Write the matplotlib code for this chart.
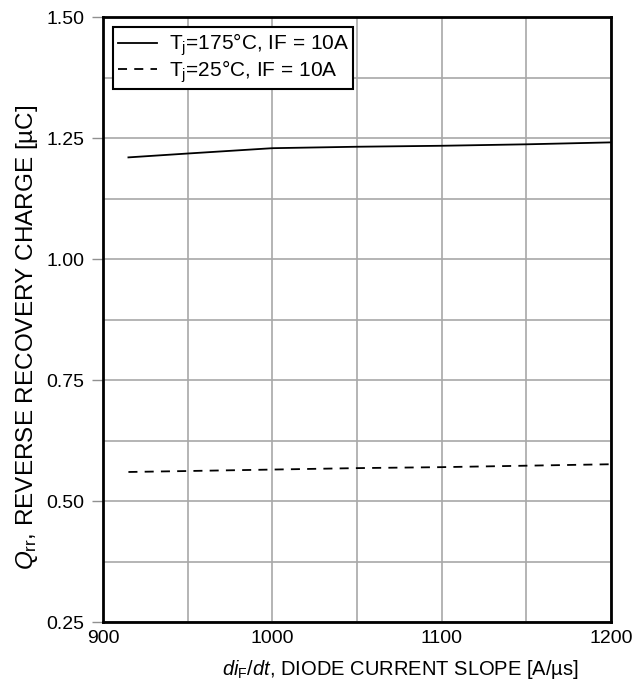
import matplotlib
matplotlib.use("Agg")
import matplotlib.pyplot as plt
from matplotlib.ticker import MultipleLocator

plt.rcParams['font.family'] = ['Liberation Sans', 'DejaVu Sans']
plt.rcParams['mathtext.fontset'] = 'custom'
plt.rcParams['mathtext.rm'] = 'Liberation Sans'
plt.rcParams['mathtext.it'] = 'Liberation Sans:italic'

# Data
didt = [915, 950, 1000, 1050, 1100, 1150, 1200]
qrr_175 = [1.210, 1.218, 1.229, 1.232, 1.234, 1.237, 1.241]
qrr_25 = [0.560, 0.562, 0.565, 0.568, 0.570, 0.573, 0.576]
labels = ["T$_\\mathregular{j}$=175°C, IF = 10A", "T$_\\mathregular{j}$=25°C, IF = 10A"]
xticks = [900, 1000, 1100, 1200]
yticks = [0.25, 0.50, 0.75, 1.00, 1.25, 1.50]

fig = plt.figure(figsize=(6.34, 6.81), dpi=100)
ax = fig.add_axes([0.1625, 0.0866, 0.8012, 0.8884])

ax.plot(didt, qrr_175, color='black', lw=1.3, label=labels[0])
ax.plot(didt, qrr_25, color='black', lw=1.3, ls=(0, (5, 4)), label=labels[1])

ax.set_xlim(900, 1200)
ax.set_ylim(0.25, 1.50)
ax.set_xticks(xticks)
ax.set_yticks(yticks)
ax.set_yticklabels([f"{v:.2f}" for v in yticks])
ax.xaxis.set_minor_locator(MultipleLocator(50))
ax.yaxis.set_minor_locator(MultipleLocator(0.125))
ax.grid(True, which='both', color='#a8a8a8', lw=1.2)
ax.set_axisbelow(True)
ax.tick_params(axis='x', which='both', length=0, labelsize=14, pad=6)
ax.tick_params(axis='y', which='major', length=8, width=1, color='#909090', labelsize=14, pad=5.5)
ax.tick_params(axis='y', which='minor', length=0)
for s in ax.spines.values():
    s.set_linewidth(2)
    s.set_color('black')

ax.set_xlabel("$di_{\\mathregular{F}}/dt$, DIODE CURRENT SLOPE [A/µs]", fontsize=14.5)
ax.xaxis.set_label_coords(0.585, -0.059)
ax.set_ylabel("$Q_{\\mathregular{rr}}$, REVERSE RECOVERY CHARGE [µC]", fontsize=17.5)
ax.yaxis.set_label_coords(-0.124, 0.47)

leg = ax.legend(loc='upper left', fontsize=15, frameon=True, fancybox=False,
                edgecolor='black', handlelength=1.9, borderpad=0.2, labelspacing=0.0,
                handletextpad=0.55, borderaxespad=0.5)
leg.get_frame().set_linewidth(1.5)
leg.get_frame().set_alpha(1)

fig.savefig("out.png", dpi=100)
